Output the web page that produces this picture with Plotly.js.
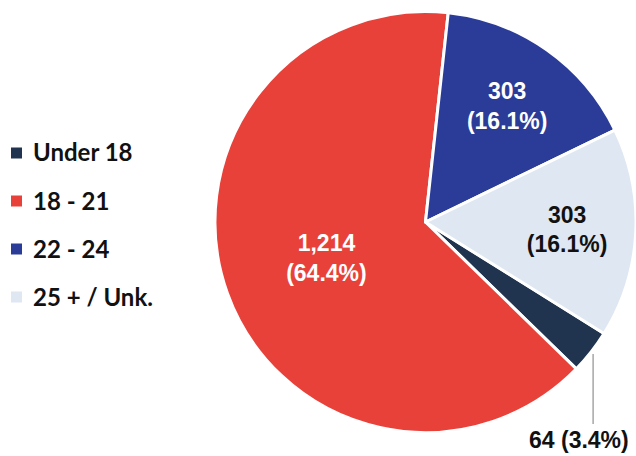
<!DOCTYPE html>
<html>
<head>
<meta charset="utf-8">
<script src="https://cdn.plot.ly/plotly-3.0.1.min.js"></script>
<style>html,body{margin:0;padding:0;background:#fff;}#chart{width:636px;height:456px;}</style>
</head>
<body>
<div id="chart"></div>
<script>
// Data
const labels = ['Under 18', '18 - 21', '22 - 24', '25 + / Unk.'];
const values = [64, 1214, 303, 303];
const colors = ['#21344f', '#e8413a', '#2a3c97', '#dfe7f2'];
const textColors = ['#111111', '#ffffff', '#ffffff', '#111111'];

const W = 636, H = 456;
const domX = [0.338, 1];
const domY = [0.0504, 0.9759];
const rotation = 122;

const total = values.reduce((a, b) => a + b, 0);
const labelFont = 'Liberation Sans, Arial, sans-serif';

const trace = {
  type: 'pie',
  labels: labels,
  values: values,
  sort: false,
  direction: 'clockwise',
  rotation: rotation,
  domain: {x: domX, y: domY},
  marker: {colors: colors, line: {color: '#ffffff', width: 3}},
  textposition: ['none', 'inside', 'inside', 'inside'],
  texttemplate: '%{value:,}<br>(%{percent:.1%})',
  insidetextorientation: 'horizontal',
  textfont: {family: labelFont, size: 23, color: textColors, weight: 'bold'},
  insidetextfont: {family: labelFont, size: 23, color: textColors, weight: 'bold'},
  hoverinfo: 'none',
  showlegend: false
};

// Geometry of the pie (pixels) to place the leader line for the small slice
const wpx = (domX[1] - domX[0]) * W, hpx = (domY[1] - domY[0]) * H;
const cx = (domX[0] + domX[1]) / 2 * W;
const cy = (1 - (domY[0] + domY[1]) / 2) * H;
const r = Math.min(wpx, hpx) / 2;
const midDeg = rotation + (values[0] / total) * 180;
const a = midDeg * Math.PI / 180;
const px = cx + r * Math.sin(a) + 2;
const py = cy - r * Math.cos(a);
const lineEnd = 424;

const shapes = [{
  type: 'line', xref: 'paper', yref: 'paper',
  x0: px / W, x1: px / W, y0: 1 - (py + 2) / H, y1: 1 - lineEnd / H,
  line: {color: '#a6a6a6', width: 1.5}
}];
const annotations = [{
  xref: 'paper', yref: 'paper', x: (px - 14) / W, y: 1 - 440 / H,
  xanchor: 'center', yanchor: 'middle', showarrow: false,
  text: values[0].toLocaleString('en-US') + ' (' + (values[0] / total * 100).toFixed(1) + '%)',
  font: {family: labelFont, size: 23, color: '#111111', weight: 'bold'}
}];

// Legend (built from labels/colors)
const legTop = 153, legStep = 48, mk = 11, mkX = 11, txtX = 31;
labels.forEach((lab, i) => {
  const yc = legTop + i * legStep;
  shapes.push({
    type: 'rect', xref: 'paper', yref: 'paper',
    x0: mkX / W, x1: (mkX + mk) / W, y0: 1 - (yc + mk / 2) / H, y1: 1 - (yc - mk / 2) / H,
    fillcolor: colors[i], line: {width: 0}
  });
  annotations.push({
    xref: 'paper', yref: 'paper', x: txtX / W, y: 1 - (yc - 1) / H,
    xanchor: 'left', yanchor: 'middle', showarrow: false, text: lab,
    font: {family: 'Lato, Carlito, sans-serif', size: 24, color: '#111111', weight: 'bold'}
  });
});

const layout = {
  width: W, height: H,
  margin: {l: 0, r: 0, t: 0, b: 0},
  paper_bgcolor: '#ffffff',
  showlegend: false,
  shapes: shapes,
  annotations: annotations
};

Plotly.newPlot('chart', [trace], layout, {displayModeBar: false, staticPlot: true});
</script>
</body>
</html>
